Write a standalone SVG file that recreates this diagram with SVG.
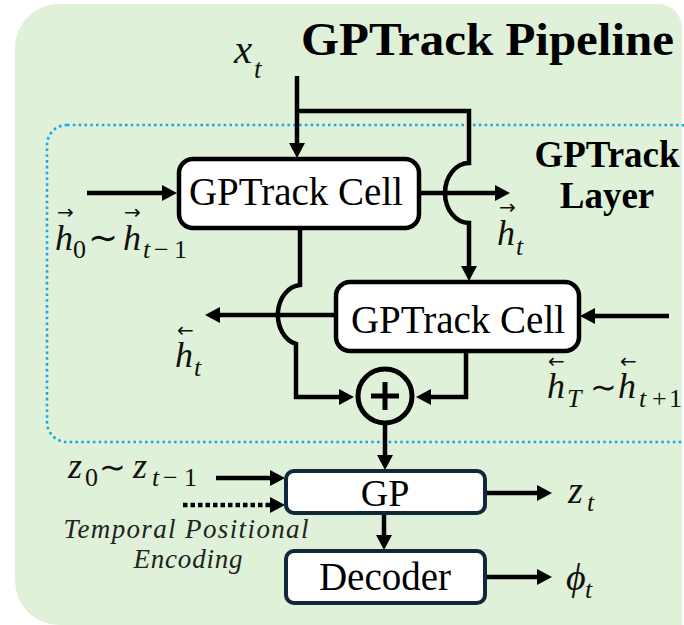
<svg xmlns="http://www.w3.org/2000/svg" width="684" height="625" viewBox="0 0 684 625">
  <defs>
    <marker id="arrow" viewBox="0 0 15 16" markerWidth="15" markerHeight="16" refX="3" refY="8" orient="auto" markerUnits="userSpaceOnUse">
      <path d="M0,0 L15,8 L0,16 Z" fill="#000"/>
    </marker>
    <style>
      .bg { fill: #dff1d8; }
      .layer { fill: none; stroke: #1ba8e6; stroke-width: 2.6; stroke-dasharray: 2.6 3.2; }
      .cell { fill: #fff; stroke: #000; stroke-width: 4.5; }
      .blk { fill: #fff; stroke: #10283a; stroke-width: 4; }
      .arr { fill: none; stroke: #000; stroke-width: 4.5; marker-end: url(#arrow); }
      .dot { stroke-dasharray: 4.5 3; }
      .serif { font-family: 'Liberation Serif', 'Times New Roman', serif; fill: #000; }
      .bold { font-weight: bold; }
      .m { font-family: 'Liberation Serif', 'Times New Roman', serif; font-style: italic; fill: #111; }
      .up { font-style: normal; }
      .acc { font-family: 'DejaVu Sans', sans-serif; font-size: 20px; fill: #111; }
      .tl { font-family: 'DejaVu Sans', sans-serif; fill: #111; }
      .note { font-family: 'Liberation Serif', 'Times New Roman', serif; font-style: italic; font-size: 27px; fill: #222; }
    </style>
  </defs>

  <!-- backdrop panel -->
  <path class="bg" d="M59,4 H658 A24,24 0 0 1 682,28 V625 H59 A44,44 0 0 1 15,581 V48 A44,44 0 0 1 59,4 Z"/>
  <text class="serif bold" x="301" y="55" font-size="47" textLength="373" lengthAdjust="spacingAndGlyphs">GPTrack Pipeline</text>

  <!-- bidirectional layer frame -->
  <g id="layer">
    <rect class="layer" x="47" y="125" width="653" height="317" rx="20" ry="20"/>
    <text class="serif bold" x="607" y="167" font-size="37" text-anchor="middle">GPTrack</text>
    <text class="serif bold" x="607" y="208" font-size="37" text-anchor="middle">Layer</text>
  </g>

  <!-- connectors -->
  <g id="connectors">
    <path class="arr" d="M297,76 V146"/>
    <path class="arr" d="M297,111 H469 V163 A24,30 0 0 0 469,223 V269"/>
    <path class="arr" d="M87,193 H165"/>
    <path class="arr" d="M419,193 H498"/>
    <path class="arr" d="M300,228 V285 A24,30 0 0 0 296,344 V397 H342"/>
    <path class="arr" d="M336,315 H217"/>
    <path class="arr" d="M669,316 H592"/>
    <path class="arr" d="M466,351 V397 H428"/>
    <path class="arr" d="M385,423 V458"/>
    <path class="arr" d="M216,478 H273"/>
    <path class="arr dot" d="M183,505 H273"/>
    <path class="arr" d="M384,513 V538"/>
    <path class="arr" d="M485,493 H540"/>
    <path class="arr" d="M485,577 H540"/>
  </g>

  <g id="cell-forward">
    <rect class="cell" x="179" y="159" width="240" height="69" rx="14"/>
    <text class="serif" x="296" y="205" font-size="39" text-anchor="middle">GPTrack Cell</text>
  </g>

  <g id="cell-backward">
    <rect class="cell" x="336" y="282" width="243" height="69" rx="14"/>
    <text class="serif" x="458" y="333" font-size="39" text-anchor="middle">GPTrack Cell</text>
  </g>

  <g id="sum">
    <circle cx="385" cy="396" r="27" fill="none" stroke="#000" stroke-width="5"/>
    <path d="M371,396 H399 M385,382 V410" stroke="#000" stroke-width="5" fill="none"/>
  </g>

  <g id="gp">
    <rect class="blk" x="286" y="471" width="199" height="42" rx="8"/>
    <text class="serif" x="385" y="506" font-size="38" text-anchor="middle">GP</text>
  </g>

  <g id="decoder">
    <rect class="blk" x="286" y="551" width="199" height="52" rx="8"/>
    <text class="serif" x="385" y="590" font-size="39" text-anchor="middle">Decoder</text>
  </g>

  <!-- signal labels -->
  <g id="labels">
    <text class="m" x="234" y="63" font-size="41">x<tspan x="254" y="78" font-size="27">t</tspan></text>

    <text class="acc" x="57" y="219">→</text>
    <text class="acc" x="124" y="219">→</text>
    <text class="m" y="250"><tspan x="55" font-size="36">h</tspan><tspan class="up" x="73" y="258" font-size="26">0</tspan><tspan class="tl up" x="88" y="250" font-size="36">∼</tspan><tspan x="123" y="250" font-size="36">h</tspan><tspan x="143" y="258" font-size="26">t</tspan><tspan class="up" x="154" y="258" font-size="26">−</tspan><tspan class="up" x="174" y="258" font-size="26">1</tspan></text>

    <text class="acc" x="499" y="214">→</text>
    <text class="m" y="245"><tspan x="497" font-size="36">h</tspan><tspan x="516" y="255" font-size="26">t</tspan></text>

    <text class="acc" x="177" y="337">←</text>
    <text class="m" y="367"><tspan x="175" font-size="36">h</tspan><tspan x="194" y="376" font-size="26">t</tspan></text>

    <text class="acc" x="548" y="368">←</text>
    <text class="acc" x="620" y="368">←</text>
    <text class="m" y="398"><tspan x="547" font-size="36">h</tspan><tspan x="567" y="407" font-size="26">T</tspan><tspan class="tl up" x="590" y="398" font-size="32">∼</tspan><tspan x="618" y="398" font-size="36">h</tspan><tspan x="639" y="407" font-size="26">t</tspan><tspan class="up" x="652" y="407" font-size="26">+</tspan><tspan class="up" x="669" y="407" font-size="26">1</tspan></text>

    <text class="m" y="478"><tspan x="68" font-size="36">z</tspan><tspan class="up" x="85" y="486" font-size="26">0</tspan><tspan class="tl up" x="99" y="478" font-size="32">∼</tspan><tspan x="133" y="478" font-size="36">z</tspan><tspan x="152" y="486" font-size="26">t</tspan><tspan class="up" x="163" y="486" font-size="26">−</tspan><tspan class="up" x="184" y="486" font-size="26">1</tspan></text>

    <text class="note" x="186" y="538" text-anchor="middle" textLength="245" lengthAdjust="spacing">Temporal Positional</text>
    <text class="note" x="188" y="568" text-anchor="middle" textLength="109" lengthAdjust="spacing">Encoding</text>

    <text class="m" y="503"><tspan x="568" font-size="38">z</tspan><tspan x="587" y="511" font-size="26">t</tspan></text>
    <text class="m" y="590"><tspan x="566" font-size="38">ϕ</tspan><tspan x="585" y="598" font-size="26">t</tspan></text>
  </g>
</svg>
